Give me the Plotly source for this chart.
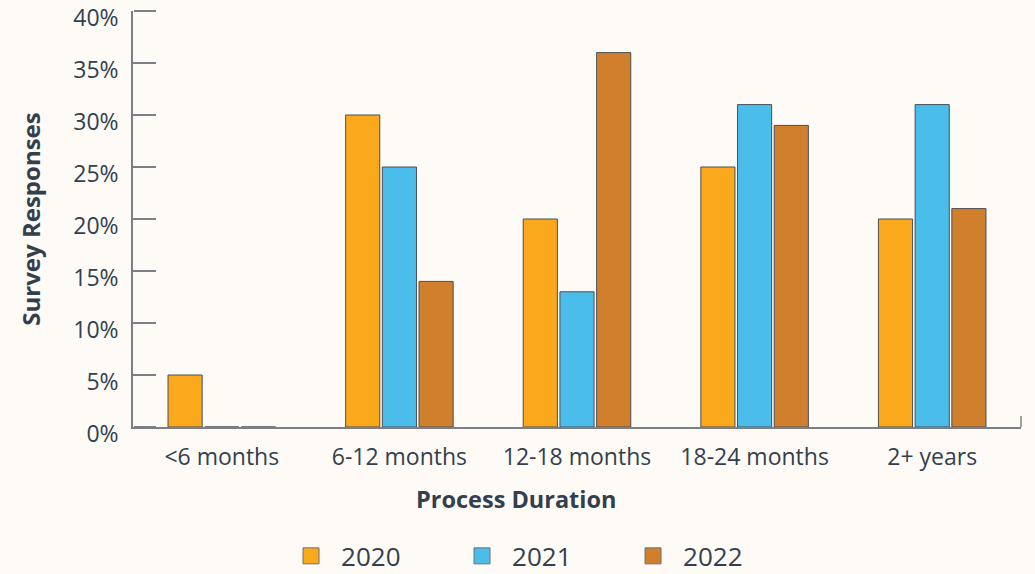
import plotly.graph_objects as go

categories = ["<6 months", "6-12 months", "12-18 months", "18-24 months", "2+ years"]
years = ["2020", "2021", "2022"]
values_2020 = [5, 30, 20, 25, 20]
values_2021 = [0, 25, 13, 31, 31]
values_2022 = [0, 14, 36, 29, 21]
series = [values_2020, values_2021, values_2022]
colors = ["#FAA91D", "#4BBDEA", "#D07F2C"]
y_ticks = [0, 5, 10, 15, 20, 25, 30, 35, 40]
y_tick_labels = [f"{v}%" for v in y_ticks]

FONT = "Open Sans"
TXT = "#343F4E"
AX = "#7C7F86"

fig = go.Figure()
for name, vals, col in zip(years, series, colors):
    fig.add_trace(go.Bar(
        x=categories, y=vals, name=name, legendgroup=name, showlegend=False,
        marker=dict(color=col, line=dict(color="#4A4E57", width=1)),
    ))
for name, col in zip(years, colors):
    fig.add_trace(go.Scatter(
        x=[None], y=[None], mode="markers", name=name, legendgroup=name, yaxis="y2",
        marker=dict(symbol="square", size=22, color=col, line=dict(color="#6E7078", width=1)),
    ))

fig.update_layout(
    template="none",
    width=1035, height=574,
    margin=dict(l=133, r=14, t=11, b=147, autoexpand=False),
    paper_bgcolor="#FEFBF6", plot_bgcolor="#FEFBF6",
    font=dict(family=FONT, color=TXT, size=23),
    barmode="group", bargap=0.38, bargroupgap=0.07,
    showlegend=True,
    legend=dict(orientation="h", x=0.1667, xanchor="left", y=-0.31, yanchor="middle",
                entrywidth=106, entrywidthmode="pixels", itemwidth=50,
                font=dict(size=26, color=TXT),
                itemsizing="trace", bgcolor="rgba(0,0,0,0)"),
    yaxis=dict(
        range=[0, 40], tickmode="array", tickvals=y_ticks, ticktext=y_tick_labels,
        ticks="inside", ticklen=22, tickwidth=1.5, tickcolor=AX,
        showline=True, linecolor=AX, linewidth=1.5, showgrid=False, zeroline=False,
        tickfont=dict(size=23, color=TXT), ticklabelstandoff=8, ticklabeloverflow="allow",
        ticklabelshift=7,
        title=dict(text="<b>Survey Responses</b>", font=dict(size=24, color=TXT), standoff=26),
    ),
    yaxis2=dict(
        overlaying="y", anchor="free", position=0, side="right",
        range=[0, 40], tickmode="array", tickvals=y_ticks,
        ticks="outside", ticklen=22, tickwidth=1.5, tickcolor=AX,
        showticklabels=False, showline=False, showgrid=False, zeroline=False,
    ),
    xaxis=dict(
        showline=True, linecolor=AX, linewidth=1.5, showgrid=False, ticks="",
        tickfont=dict(size=23, color=TXT), ticklabelstandoff=9,
    ),
    annotations=[dict(
        text="<b>Process Duration</b>", xref="paper", yref="paper",
        x=(516 - 133) / 888, y=-72 / 416, xanchor="center", yanchor="middle",
        showarrow=False, font=dict(size=23.5, color=TXT),
    )],
)
fig.add_shape(type="line", xref="paper", yref="paper", x0=1, x1=1, y0=0, y1=11/416,
              line=dict(color=AX, width=1.5))
fig.write_html("out.html", config={"displayModeBar": False},
               post_script="document.body.style.margin='0';document.body.style.background='#FEFBF6';")
